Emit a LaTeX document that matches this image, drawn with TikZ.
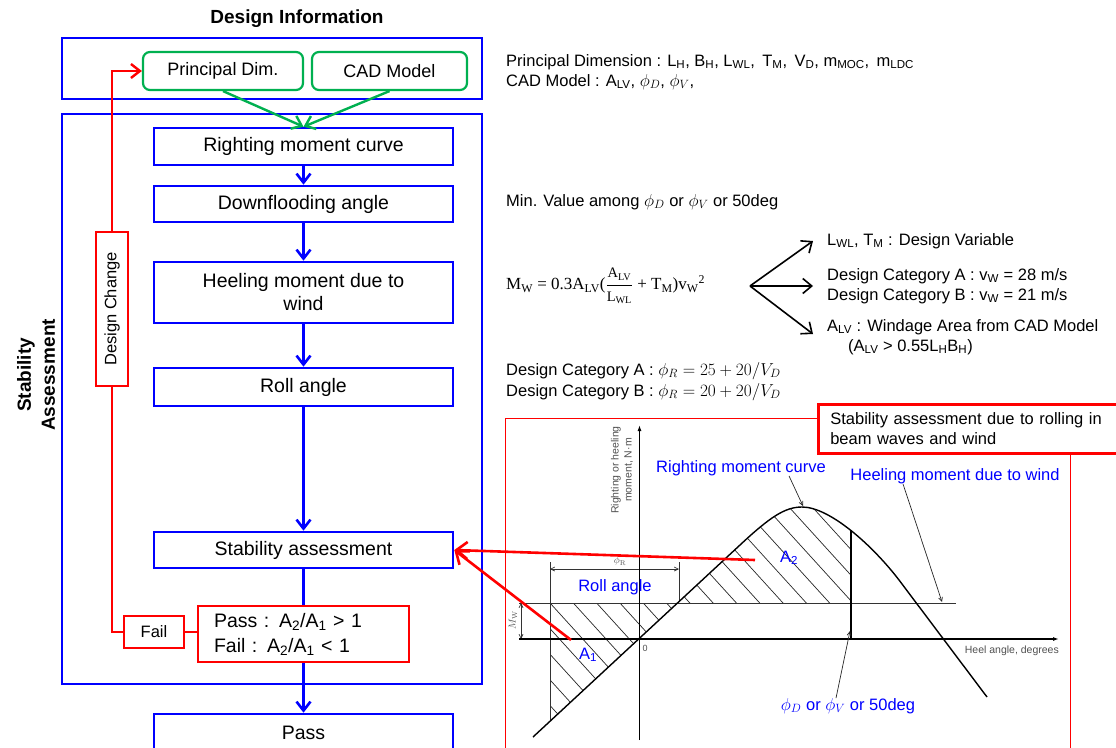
\documentclass[tikz,border=0pt]{standalone}
\usepackage[no-math]{fontspec}
\setmainfont{Liberation Sans}
\newfontfamily\serifx{Liberation Serif}
\usetikzlibrary{arrows.meta}
\definecolor{pgreen}{RGB}{0,176,80}
\definecolor{glab}{RGB}{80,80,80}
\newcommand\sbs[1]{\textsubscript{#1}}
\begin{document}
\begin{tikzpicture}[x=1pt,y=-1pt,
  outer/.style={draw=blue, line width=2.6pt, inner sep=0pt},
  flow/.style={draw=blue, line width=2.6pt, minimum width=299pt, inner sep=0pt, fill=white, align=center, font=\fontsize{19.5}{23}\selectfont},
  gbox/.style={draw=pgreen, line width=2.2pt, rounded corners=7pt, minimum height=38pt, inner sep=0pt, fill=white, font=\fontsize{18}{21}\selectfont},
  rbox/.style={draw=red, line width=2.6pt, inner sep=0pt, fill=white},
  barrow/.style={draw=blue, line width=2.6pt, -{Straight Barb[length=9pt,width=14pt]}},
  bline/.style={draw=blue, line width=2.6pt},
  garrow/.style={draw=pgreen, line width=2.4pt, -{Straight Barb[length=9pt,width=14pt]}},
  rline/.style={draw=red, line width=2.4pt},
  rarrow/.style={draw=red, line width=2.4pt, -{Straight Barb[length=9pt,width=14pt]}},
  rbig/.style={draw=red, line width=2.6pt, -{Straight Barb[length=11pt,width=17pt]}},
  karrow/.style={draw=black, line width=1.6pt, -{Straight Barb[length=9pt,width=15pt]}},
  rtext/.style={anchor=west, inner sep=0pt, align=left, font=\fontsize{16.5}{20}\selectfont},
  blab/.style={text=blue, inner sep=0pt, font=\fontsize{16.5}{20}\selectfont},
  glabel/.style={text=glab, inner sep=0pt, font=\fontsize{10.5}{13}\selectfont},
  curve/.style={draw=black, line width=1.4pt},
  thinl/.style={draw=black!80, line width=0.9pt},
  hatch/.style={draw=black!85, line width=0.7pt},
  leader/.style={draw=black!85, line width=0.7pt, -{Straight Barb[length=4pt,width=4pt]}},
  dim/.style={draw=black!80, line width=0.7pt, {Straight Barb[length=4pt,width=4pt]}-{Straight Barb[length=4pt,width=4pt]}}
]
\useasboundingbox (0,0) rectangle (1116,747);
\clip (0,0) rectangle (1116,747);

% ---------------- left flow chart ----------------
\node[font=\bfseries\fontsize{19}{22}\selectfont] (title) at (297,19) {Design Information};
\node[outer, minimum width=420pt, minimum height=61pt] (di) at (272,68.5) {};
\node[gbox, minimum width=160pt] (pd) at (223,71) {Principal Dim.};
\node[gbox, minimum width=155pt] (cad) at (389.5,71) {CAD Model};

\node[outer, minimum width=420pt, minimum height=570pt] (sa) at (272,399) {};
\node[font=\bfseries\fontsize{19}{24}\selectfont, rotate=90, align=center] (stab) at (36,375) {Stability\\Assessment};

\node[flow, minimum height=37pt] (rmc) at (303.5,146.5) {Righting moment curve};
\node[flow, minimum height=36pt] (dfa) at (303.5,204) {Downflooding angle};
\node[flow, minimum height=61pt] (hm) at (303.5,292.5) {Heeling moment due to\\wind};
\node[flow, minimum height=38pt] (ra) at (303.5,387) {Roll angle};
\node[flow, minimum height=36pt] (sas) at (303.5,550) {Stability assessment};
\node[rbox, minimum height=56pt, text width=179pt, inner xsep=16pt, align=left, font=\fontsize{19.5}{25}\selectfont] (pf) at (303.5,634) {Pass : A\sbs{2}/A\sbs{1} > 1\\Fail : A\sbs{2}/A\sbs{1} < 1};
\node[rbox, minimum width=60pt, minimum height=32pt, font=\fontsize{16.5}{20}\selectfont] (fail) at (154,632) {Fail};
\node[rbox, rotate=90, minimum width=154pt, minimum height=32pt, font=\fontsize{16.5}{20}\selectfont] (dc) at (112,309) {Design Change};
\node[flow, minimum height=38pt] (pass) at (303.5,733) {Pass};

\draw[garrow] (pd.south) -- (rmc.north);
\draw[garrow] (cad.south) -- (rmc.north);
\draw[barrow] (rmc) -- (dfa);
\draw[barrow] (dfa) -- (hm);
\draw[barrow] (hm) -- (ra);
\draw[barrow] (ra) -- (sas);
\draw[bline] (sas.south) -- (pf.north);
\draw[barrow] (pf.south) -- (pass.north);

\draw[rline] (fail.west) -| (dc.west);
\draw[rarrow] (dc.east) |- (pd.west);
\draw[rline] (fail.east) -- (fail.east -| pf.west);

% ---------------- right texts ----------------
\node[rtext] (pdim) at (506,62) {Principal Dimension : L\sbs{H}, B\sbs{H}, L\sbs{WL}, \,T\sbs{M}, \,V\sbs{D}, m\sbs{MOC}, \,m\sbs{LDC}};
\node[rtext] (cadt) at (506,82) {CAD Model : A\sbs{LV}, $\phi_D$, $\phi_V$,};
\node[rtext] (minv) at (506,202) {Min. Value among $\phi_D$ or $\phi_V$ or 50deg};
\node[rtext, font=\serifx\fontsize{17}{20}\selectfont] (mw) at (506,286) {M\sbs{W} = 0.3A\sbs{LV}($\displaystyle\frac{\mbox{\serifx\fontsize{14.5}{15}\selectfont A\sbs{LV}}}{\mbox{\serifx\fontsize{14.5}{15}\selectfont L\sbs{WL}}}$ + T\sbs{M})v\sbs{W}\textsuperscript{2}};
\node[rtext] (lwl) at (827,241) {L\sbs{WL}, T\sbs{M} : Design Variable};
\node[rtext] (dca) at (827,286) {Design Category A : v\sbs{W} = 28 m/s\\Design Category B : v\sbs{W} = 21 m/s};
\node[rtext] (alv) at (827,337) {A\sbs{LV} : Windage Area from CAD Model\\\hspace*{21pt}(A\sbs{LV} > 0.55L\sbs{H}B\sbs{H})};
\node[rtext, font=\fontsize{16.5}{21}\selectfont] (phir) at (506,381.5) {Design Category A : $\phi_R = 25 + 20/V_D$\\Design Category B : $\phi_R = 20 + 20/V_D$};

\coordinate (fork) at (750,286);
\draw[karrow] (fork) -- ([xshift=-14pt]lwl.west);
\draw[karrow] (fork) -- ([xshift=-14pt]dca.west);
\draw[karrow] (fork) -- ([xshift=-14pt,yshift=3pt]alv.west);

% ---------------- graph ----------------
\draw[red, line width=0.8pt] (817,418) -- (505,418) -- (505,760);
\draw[red, line width=0.8pt] (1070,452) -- (1070,760);
\node[rbox, anchor=north west, minimum height=49pt, text width=300pt, inner xsep=12pt, align=left, font=\fontsize{16.5}{20}\selectfont] (cap) at (817,403) {Stability assessment due to rolling in\\beam waves and wind};

% hatching A1
\begin{scope}
  \clip (550,603) -- (677.5,603) -- (550,721.2) -- cycle;
  \foreach \k in {-12,...,22} \draw[hatch] (438.2+23.3*\k,480) -- ++(300,330);
\end{scope}
% hatching A2
\begin{scope}
  \clip (677.5,480) rectangle (851,603);
  \clip (533,737) -- (740,545) .. controls (770,517) and (785,507) .. (802,507) .. controls (830,507) and (873,546) .. (899,580) -- (987,697) -- cycle;
  \foreach \k in {-12,...,22} \draw[hatch] (438.2+23.3*\k,480) -- ++(300,330);
\end{scope}

\draw[thinl] (519,603) -- (956,603);
\draw[thinl] (550,562) -- (550,721);
\draw[thinl] (679,562) -- (679,601);
\draw[dim] (550,569) -- (679,569);
\draw[dim] (521,603) -- (521,639);
\draw[curve, -{Latex[length=6pt,width=4pt]}] (639.5,740) -- (639.5,425);
\draw[curve, -{Latex[length=6pt,width=4pt]}] (519,639) -- (1059,639);
\draw[curve] (533,737) -- (740,545) .. controls (770,517) and (785,507) .. (802,507) .. controls (830,507) and (873,546) .. (899,580) -- (987,697);
\draw[curve] (851,530) -- (851,639);

\node[glabel, rotate=90, align=center] (ylab) at (622,470) {Righting or heeling\\moment, N·m};
\node[glabel, anchor=east] (xlab) at (1059,651) {Heel angle, degrees};
\node[glabel, font=\fontsize{9}{11}\selectfont] (zero) at (645,648) {0};
\node[glabel, font=\fontsize{10}{12}\selectfont] (phr) at (620,561) {$\phi_\mathrm{R}$};
\node[glabel, rotate=90, font=\fontsize{10}{12}\selectfont] (mwl) at (513,620) {$M_\mathrm{W}$};

\node[blab] (rmcl) at (741,468) {Righting moment curve};
\node[blab] (hwl) at (955,476) {Heeling moment due to wind};
\node[blab] (ral) at (615,587) {Roll angle};
\node[blab] (a2) at (789,558) {A\sbs{2}};
\node[blab] (a1) at (588,655) {A\sbs{1}};
\node[blab] (phl) at (848,706) {$\phi_D$ or $\phi_V$ or 50deg};

\coordinate (peak) at (803,506);
\coordinate (hwend) at (942,602);
\coordinate (phend) at (850,631);
\draw[leader] ([xshift=48pt]rmcl.south) -- (peak);
\draw[leader] ([xshift=-52pt]hwl.south) -- (hwend);
\draw[leader] ([xshift=-12pt]phl.north) -- (phend);

% red arrows from graph
\coordinate (a2s) at (755,560);
\coordinate (a1s) at (571,640);
\draw[rbig] (a2s) -- (sas.east);
\draw[rbig] (a1s) -- (sas.east);
\end{tikzpicture}
\end{document}
